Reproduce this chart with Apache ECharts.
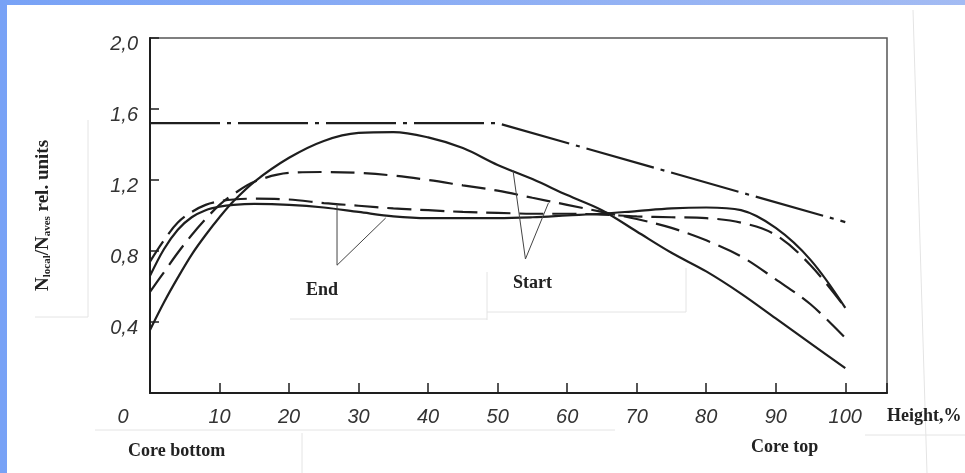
<!DOCTYPE html>
<html>
<head>
<meta charset="utf-8">
<script src="https://cdn.jsdelivr.net/npm/echarts@6/dist/echarts.min.js"></script>
<style>
  html, body { margin: 0; padding: 0; width: 965px; height: 473px; overflow: hidden;
    background: linear-gradient(90deg, #78a2f6, #a3bbf3); }
  #chart { position: absolute; left: 7px; top: 5px; width: 958px; height: 468px; background: #fff; }
</style>
</head>
<body>
<div id="chart"></div>
<script>
// core height, % (shared by the four profile curves)
const heights = [0, 2, 4, 6, 8, 10, 12, 15, 20, 25, 30, 35, 40, 45, 50, 55, 60, 65, 70, 75, 80, 85, 90, 95, 100];

// N_local / N_aves, rel. units
const startSolid  = [0.355, 0.51, 0.65, 0.78, 0.89, 0.99, 1.08, 1.19, 1.325, 1.42, 1.465, 1.47, 1.44, 1.38, 1.285, 1.205, 1.115, 1.03, 0.91, 0.79, 0.685, 0.56, 0.42, 0.28, 0.14];
const startDashed = [0.57, 0.68, 0.79, 0.89, 0.98, 1.06, 1.12, 1.19, 1.24, 1.245, 1.24, 1.225, 1.20, 1.17, 1.14, 1.10, 1.06, 1.02, 0.98, 0.93, 0.86, 0.77, 0.64, 0.50, 0.31];
const endSolid    = [0.66, 0.81, 0.92, 0.99, 1.03, 1.05, 1.06, 1.065, 1.06, 1.045, 1.02, 0.995, 0.985, 0.985, 0.985, 0.99, 1.0, 1.01, 1.025, 1.04, 1.045, 1.03, 0.93, 0.75, 0.48];
const endDashed   = [0.74, 0.86, 0.96, 1.02, 1.06, 1.08, 1.09, 1.095, 1.09, 1.07, 1.055, 1.04, 1.03, 1.02, 1.015, 1.01, 1.01, 1.005, 0.995, 0.99, 0.985, 0.96, 0.89, 0.72, 0.48];

// dash-dot line
const limitX = [0, 50, 100];
const limitY = [1.52, 1.52, 0.963];

// "End" / "Start" pointers (arm, apex, arm)
const endPointer   = [[26.9, 1.065], [26.9, 0.72], [33.9, 0.986]];
const startPointer = [[52.2, 1.256], [54.0, 0.755], [57.3, 1.07]];

const xTicks = [0, 10, 20, 30, 40, 50, 60, 70, 80, 90, 100];

const ink = '#1e1e1e';
const tickFont = { fontFamily: 'Liberation Sans', fontStyle: 'italic', fontSize: 20, color: '#333' };
const boldSerif = { fontFamily: 'Liberation Serif', fontWeight: 'bold', fontSize: 18, color: '#222' };

function pairs(xs, ys) {
  return xs.map((x, i) => [x, ys[i]]);
}

function curve(ys, dashed) {
  return {
    type: 'line',
    data: pairs(heights, ys),
    smooth: 0.35,
    showSymbol: false,
    silent: true,
    lineStyle: { color: ink, width: 2.2, type: dashed ? [24, 9] : 'solid' },
  };
}

function pointer(pts, text, offset) {
  return {
    type: 'line',
    data: pts.map((p, i) => ({
      value: p,
      label: i === 1 ? { show: true, position: 'bottom', offset: offset, formatter: text, ...boldSerif } : { show: false },
    })),
    symbol: 'circle',
    symbolSize: 1,
    showSymbol: true,
    itemStyle: { color: 'rgba(0,0,0,0)', borderWidth: 0 },
    silent: true,
    lineStyle: { color: '#444', width: 1 },
  };
}

// faint scan edges of the pasted-up original
const scanEdges = [
  [81, 115, 81, 312], [28, 312, 81, 312],
  [283, 314, 480, 314], [480, 267, 480, 315], [480, 307, 679, 307], [679, 263, 679, 307],
  [88, 425, 608, 425], [295, 428, 295, 468], [858, 430, 958, 430], [906, 5, 920, 468],
];

const chart = echarts.init(document.getElementById('chart'));

const option = {
  animation: false,
  backgroundColor: '#fff',
  grid: { left: 143, right: 78, top: 33, bottom: 80, show: true, borderColor: '#555', borderWidth: 1.5 },
  xAxis: {
    type: 'value',
    min: 0,
    max: 106,
    interval: 10,
    splitLine: { show: false },
    axisLine: { lineStyle: { color: ink, width: 2 } },
    axisTick: { inside: true, length: 10, lineStyle: { color: ink, width: 1.5 } },
    axisLabel: {
      ...tickFont,
      margin: 14,
      formatter: (v) => (v === 0 ? '{o|0}' : xTicks.includes(v) ? String(v) : ''),
      rich: { o: { ...tickFont, padding: [0, 54, 0, 0] } },
    },
    name: 'Height,%',
    nameLocation: 'end',
    nameGap: 0,
    nameTextStyle: { ...boldSerif, verticalAlign: 'top', padding: [14, 0, 0, 0] },
  },
  yAxis: {
    type: 'value',
    min: 0,
    max: 2.0,
    interval: 0.4,
    splitLine: { show: false },
    axisLine: { lineStyle: { color: ink, width: 2 } },
    axisTick: { inside: true, length: 9, lineStyle: { color: ink, width: 1.5 } },
    axisLabel: {
      ...tickFont,
      margin: 12,
      verticalAlign: 'top',
      lineHeight: 12,
      formatter: (v) => (v === 0 ? '' : v.toFixed(1).replace('.', ',')),
    },
    name: 'N{sub|local}/N{sub|aves} rel. units',
    nameLocation: 'middle',
    nameGap: 97,
    nameTextStyle: {
      ...boldSerif,
      fontSize: 19,
      rich: {
        sub: { fontFamily: 'Liberation Serif', fontSize: 11, color: '#222', padding: [9, 0, 0, 0] },
      },
    },
  },
  series: [
    {
      type: 'line',
      data: pairs(limitX, limitY),
      showSymbol: false,
      silent: true,
      lineStyle: { color: ink, width: 2.2, type: [70, 7, 4, 7] },
    },
    curve(startSolid, false),
    curve(startDashed, true),
    curve(endSolid, false),
    curve(endDashed, true),
    pointer(endPointer, 'End', [-15, 11]),
    pointer(startPointer, 'Start', [7, 10]),
  ],
  graphic: [
    ...scanEdges.map((s) => ({
      type: 'line',
      silent: true,
      z: -1,
      shape: { x1: s[0], y1: s[1], x2: s[2], y2: s[3] },
      style: { stroke: '#e4e4e4', lineWidth: 1 },
    })),
    {
      type: 'text', left: 121, top: 437,
      style: { text: 'Core bottom', font: 'bold 18px "Liberation Serif"', fill: '#222' },
    },
    {
      type: 'text', left: 744, top: 433,
      style: { text: 'Core top', font: 'bold 18px "Liberation Serif"', fill: '#222' },
    },
  ],
};

chart.setOption(option);
</script>
</body>
</html>
